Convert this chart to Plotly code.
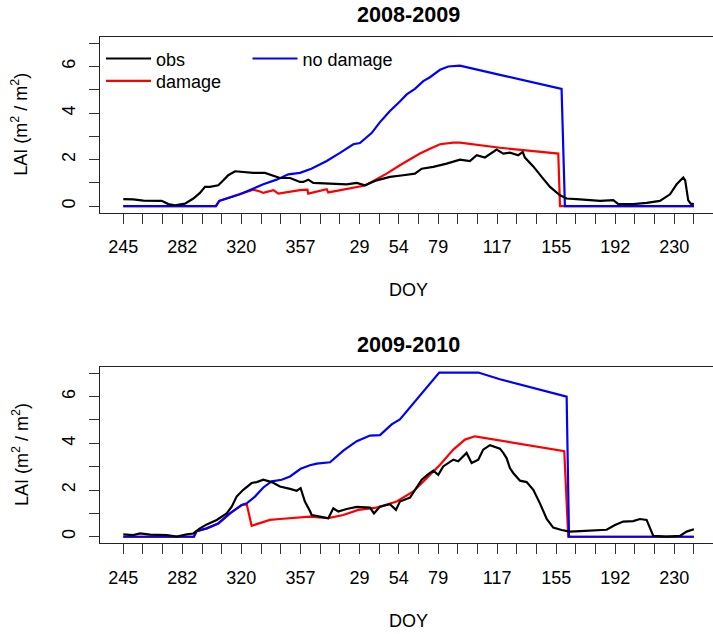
import plotly.graph_objects as go

# ---------------- data ----------------
tick_days = [0, 12.45, 24.9, 37.35, 49.8, 62.25, 74.7, 87.15, 99.6, 112.05,
             124.5, 136.95, 149.4, 161.85, 174.3, 186.75, 199.2, 211.65, 224.1, 236.55,
             249.0, 261.45, 273.9, 286.35, 298.8, 311.25, 323.7, 336.15, 348.6, 361.05]
label_days = [0, 37.35, 74.7, 112.05, 149.4, 174.3, 199.2, 236.55, 273.9, 311.25, 348.6]
label_text = ["245", "282", "320", "357", "29", "54", "79", "117", "155", "192", "230"]
y_tick_vals = [0, 1, 2, 3, 4, 5, 6, 7]
y_label_vals = [0, 2, 4, 6]
y_label_text = ["0", "2", "4", "6"]

panel_titles = ["2008-2009", "2009-2010"]

# 2008-2009
top_obs_day = [0, 6.3, 12.7, 24.3, 28.5, 32.7, 39.0, 44.3, 48.5, 51.7, 54.8, 60.1, 63.3, 66.4,
               70.7, 75.9, 82.2, 89.6, 93.9, 99.1, 105.5, 111.8, 113.9, 117.0, 120.2, 130.8,
               141.3, 147.7, 152.9, 160.3, 168.7, 177.1, 184.5, 188.8, 196.1, 204.6, 213.0,
               219.3, 223.6, 228.8, 236.2, 240.4, 244.6, 249.9, 252.7, 254.1, 259.4, 264.7,
               270.0, 276.3, 280.5, 288.9, 301.6, 310.0, 313.2, 322.6, 331.1, 339.5, 345.9,
               350.1, 354.3, 355.5, 357.4, 359.0, 361.0]
top_obs_lai = [0.30, 0.29, 0.24, 0.23, 0.09, 0.04, 0.11, 0.33, 0.57, 0.83, 0.83, 0.90, 1.11, 1.33,
               1.50, 1.46, 1.43, 1.43, 1.33, 1.21, 1.21, 1.04, 1.04, 1.14, 1.00, 0.97,
               0.94, 1.00, 0.90, 1.11, 1.26, 1.33, 1.40, 1.61, 1.69, 1.83, 2.00,
               1.94, 2.19, 2.09, 2.43, 2.26, 2.30, 2.19, 2.33, 2.09, 1.71, 1.26,
               0.83, 0.47, 0.33, 0.29, 0.23, 0.26, 0.09, 0.09, 0.14, 0.23, 0.51,
               0.94, 1.23, 1.11, 0.26, 0.11, 0.09]

top_dmg_day = [0, 58.6, 60.7, 73.8, 82.2, 86.5, 88.6, 95.0, 98.1, 111.8, 116.5, 117.0, 128.7,
               129.7, 139.2, 148.7, 152.9, 157.1, 166.6, 175.0, 179.3, 187.7, 194.0, 200.4,
               208.8, 213.0, 238.3, 275.2, 276.3, 361.0]
top_dmg_lai = [0, 0, 0.23, 0.51, 0.71, 0.63, 0.57, 0.69, 0.54, 0.69, 0.71, 0.54, 0.73,
               0.59, 0.71, 0.86, 0.89, 1.04, 1.40, 1.76, 1.94, 2.26, 2.47, 2.66,
               2.73, 2.73, 2.51, 2.26, 0, 0]

top_nod_day = [0, 58.6, 60.7, 73.8, 88.6, 97.0, 104.4, 111.8, 119.0, 128.7, 137.1, 145.5, 149.7,
               157.1, 162.4, 168.7, 175.0, 179.3, 184.5, 189.8, 194.0, 200.4, 205.6, 213.0,
               238.3, 277.3, 279.4, 361.0]
top_nod_lai = [0, 0, 0.23, 0.51, 0.94, 1.14, 1.37, 1.43, 1.61, 1.94, 2.29, 2.66, 2.71,
               3.14, 3.61, 4.09, 4.50, 4.80, 5.04, 5.37, 5.54, 5.86, 6.00, 6.04,
               5.64, 5.04, 0, 0]

# 2009-2010
bot_obs_day = [0, 6.3, 10.6, 16.9, 27.5, 33.8, 40.1, 44.3, 48.5, 52.8, 59.1, 65.4, 68.6, 71.7,
               75.9, 81.2, 84.4, 88.6, 93.9, 99.1, 105.5, 109.7, 112.2, 114.9, 118.1, 119.2,
               124.4, 129.7, 132.9, 136.0, 141.3, 147.7, 156.1, 158.6, 162.4, 168.7, 172.5,
               175.0, 181.4, 184.5, 188.8, 193.0, 196.1, 199.3, 202.4, 208.8, 211.9, 217.2,
               220.4, 224.6, 227.7, 232.0, 236.2, 238.3, 240.4, 242.5, 244.6, 246.7, 251.0,
               255.2, 259.4, 263.6, 267.9, 272.0, 277.3, 282.6, 288.9, 297.3, 305.8, 311.1,
               316.3, 322.6, 326.9, 331.1, 333.2, 335.3, 343.8, 352.2, 356.4, 361.0]
bot_obs_lai = [0.10, 0.07, 0.14, 0.09, 0.07, 0.01, 0.10, 0.14, 0.36, 0.53, 0.72, 1.00, 1.29, 1.72,
               2.01, 2.30, 2.34, 2.44, 2.34, 2.15, 2.05, 1.97, 2.08, 1.51, 1.10, 0.93,
               0.86, 0.79, 1.22, 1.08, 1.19, 1.28, 1.25, 1.00, 1.29, 1.39, 1.15,
               1.51, 1.68, 2.01, 2.44, 2.68, 2.83, 2.65, 3.01, 3.30, 3.23, 3.59,
               3.16, 3.30, 3.73, 3.92, 3.83, 3.77, 3.59, 3.37, 2.94, 2.73, 2.40,
               2.34, 2.01, 1.43, 0.76, 0.39, 0.29, 0.22, 0.24, 0.27, 0.30, 0.50,
               0.65, 0.67, 0.76, 0.72, 0.36, 0.04, 0.01, 0.04, 0.22, 0.32]

bot_dmg_day = [0, 44.7, 46.4, 52.8, 60.1, 67.5, 74.9, 78.1, 81.2, 92.8, 99.1, 109.7, 118.1,
               129.7, 139.2, 148.7, 160.3, 173.0, 183.5, 191.9, 200.4, 208.8, 216.2, 222.5,
               238.3, 279.0, 281.5, 361.0]
bot_dmg_lai = [0, 0, 0.24, 0.36, 0.57, 1.00, 1.36, 1.39, 0.47, 0.72, 0.76, 0.82, 0.86,
               0.80, 0.93, 1.15, 1.25, 1.51, 1.94, 2.51, 3.08, 3.73, 4.16, 4.30,
               4.12, 3.66, 0, 0]

bot_nod_day = [0, 44.7, 46.4, 52.8, 60.1, 67.5, 74.9, 78.1, 83.3, 88.6, 93.9, 100.2, 105.5,
               112.2, 118.1, 122.4, 130.8, 139.2, 147.7, 156.1, 162.4, 169.8, 175.0, 185.6,
               194.0, 199.9, 224.6, 238.3, 280.5, 282.0, 361.0]
bot_nod_lai = [0, 0, 0.24, 0.36, 0.57, 1.00, 1.36, 1.43, 1.72, 2.11, 2.37, 2.44, 2.58,
               2.91, 3.06, 3.13, 3.19, 3.69, 4.09, 4.33, 4.35, 4.81, 5.02, 5.88,
               6.53, 7.03, 7.03, 6.74, 6.00, 0, 0]

# ---------------- figure ----------------
FONT = "Liberation Sans, Arial, Helvetica, sans-serif"
W, H = 713, 634
ML = 100
LW = 2.2

fig = go.Figure()

panels = [
    ("x", "y", top_obs_day, top_obs_lai, top_dmg_day, top_dmg_lai, top_nod_day, top_nod_lai, True),
    ("x2", "y2", bot_obs_day, bot_obs_lai, bot_dmg_day, bot_dmg_lai, bot_nod_day, bot_nod_lai, False),
]
for xa, ya, od, ol, dd, dl, nd, nl, leg in panels:
    fig.add_trace(go.Scatter(x=dd, y=dl, mode="lines", name="damage",
                             line=dict(color="#ff0000", width=LW), xaxis=xa, yaxis=ya,
                             showlegend=leg, legend="legend3"))
    fig.add_trace(go.Scatter(x=nd, y=nl, mode="lines", name="no damage",
                             line=dict(color="#0000ff", width=LW), xaxis=xa, yaxis=ya,
                             showlegend=leg, legend="legend2"))
    fig.add_trace(go.Scatter(x=od, y=ol, mode="lines", name="obs",
                             line=dict(color="#000000", width=LW), xaxis=xa, yaxis=ya,
                             showlegend=leg, legend="legend"))


def py(p):  # pixel from top -> paper y
    return (H - p) / H


def px(p):  # pixel from left -> paper x
    return (p - ML) / (W - ML)


x_range = [-14.74, 373.1]
y_range = [-0.28, 7.28]
TICKC = "#333333"

xcommon = dict(range=x_range, tickmode="array", tickvals=label_days, ticktext=label_text,
               ticks="outside", ticklen=10, tickwidth=1, tickcolor=TICKC,
               minor=dict(tickmode="array", tickvals=tick_days, ticks="outside",
                          ticklen=10, tickwidth=1, tickcolor=TICKC, showgrid=False),
               showline=True, linecolor="#222222", linewidth=1, mirror=True,
               showgrid=False, zeroline=False, ticklabelstandoff=8,
               tickfont=dict(family=FONT, size=18, color="#000000"))
ycommon = dict(range=y_range, tickmode="array", tickvals=y_label_vals, ticktext=y_label_text,
               ticks="outside", ticklen=10, tickwidth=1, tickcolor=TICKC,
               minor=dict(tickmode="array", tickvals=y_tick_vals, ticks="outside",
                          ticklen=10, tickwidth=1, tickcolor=TICKC, showgrid=False),
               showline=True, linecolor="#222222", linewidth=1, mirror=False,
               showgrid=False, zeroline=False, tickangle=-90, ticklabelstandoff=7,
               tickfont=dict(family=FONT, size=18, color="#000000"))

top_dom = [py(212.7), py(36.7)]
bot_dom = [py(543.3), py(366.7)]

legcommon = dict(xanchor="left", yanchor="top", bgcolor="rgba(0,0,0,0)", borderwidth=0,
                 orientation="v", font=dict(family=FONT, size=18, color="#000000"),
                 itemwidth=45)

fig.update_layout(
    width=W, height=H,
    margin=dict(l=ML, r=0, t=0, b=0, pad=0),
    paper_bgcolor="white", plot_bgcolor="white",
    font=dict(family=FONT, size=18, color="#000000"),
    xaxis=dict(**xcommon, anchor="y", domain=[0, 1]),
    yaxis=dict(**ycommon, anchor="x", domain=top_dom),
    xaxis2=dict(**xcommon, anchor="y2", domain=[0, 1]),
    yaxis2=dict(**ycommon, anchor="x2", domain=bot_dom),
    legend=dict(x=px(101), y=py(40.3), **legcommon),
    legend3=dict(x=px(101), y=py(62.7), **legcommon),
    legend2=dict(x=px(247.5), y=py(40.3), **legcommon),
    showlegend=True,
)

cx = px(408.7)
annots = []
for title, ty, dy, ly in [(panel_titles[0], 15, 290, 124.7), (panel_titles[1], 345, 620.6, 455.0)]:
    annots.append(dict(text="<b>%s</b>" % title, x=cx, y=py(ty), xref="paper", yref="paper",
                       xanchor="center", yanchor="middle", showarrow=False,
                       font=dict(family=FONT, size=21.6, color="#000000")))
    annots.append(dict(text="DOY", x=cx, y=py(dy), xref="paper", yref="paper",
                       xanchor="center", yanchor="middle", showarrow=False,
                       font=dict(family=FONT, size=18, color="#000000")))
    annots.append(dict(text="LAI (m<sup>2</sup> / m<sup>2</sup>)", x=px(20), y=py(ly),
                       xref="paper", yref="paper", xanchor="center", yanchor="middle",
                       textangle=-90, showarrow=False,
                       font=dict(family=FONT, size=18, color="#000000")))
fig.update_layout(annotations=annots)

fig.write_html("out.html")
